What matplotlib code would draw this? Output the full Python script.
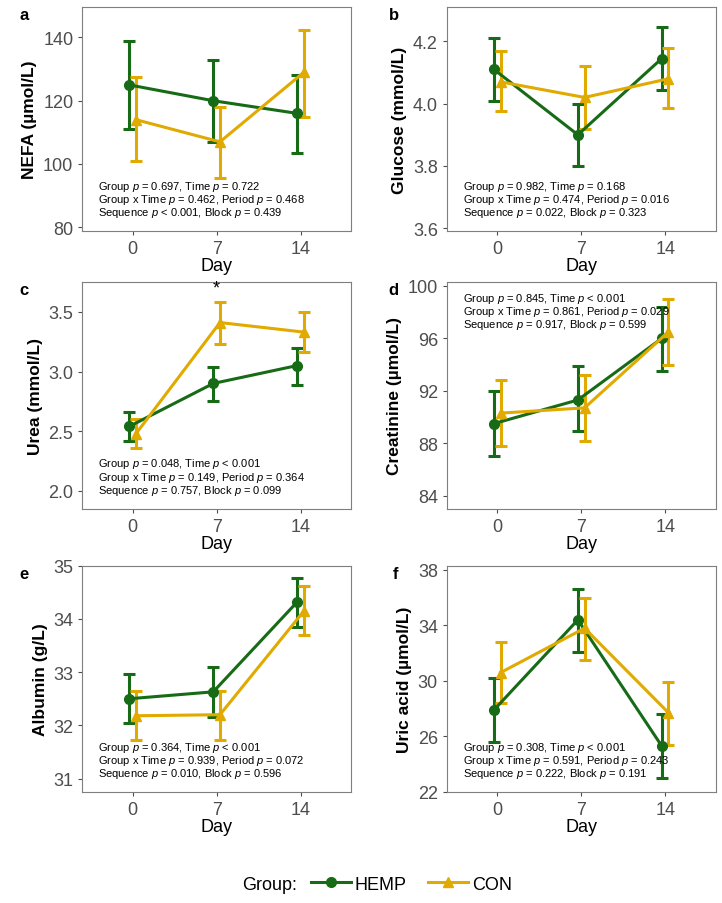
import matplotlib
matplotlib.use("Agg")
import matplotlib.pyplot as plt
from matplotlib.lines import Line2D

plt.rcParams["font.family"] = ["Liberation Sans", "DejaVu Sans"]
plt.rcParams["mathtext.fontset"] = "custom"
plt.rcParams["mathtext.it"] = "Liberation Sans:italic"
plt.rcParams["mathtext.rm"] = "Liberation Sans"

GREEN = "#176b16"
GOLD = "#e0aa00"
days = ["0", "7", "14"]

# value, lower, upper per day
nefa_hemp = [125, 120, 116]; nefa_hemp_lo = [111, 107, 103.5]; nefa_hemp_hi = [139, 133, 128]
nefa_con = [114, 107, 129]; nefa_con_lo = [101, 95.5, 115]; nefa_con_hi = [127.5, 118, 142.5]
glu_hemp = [4.11, 3.90, 4.145]; glu_hemp_lo = [4.01, 3.80, 4.045]; glu_hemp_hi = [4.21, 4.00, 4.245]
glu_con = [4.07, 4.02, 4.08]; glu_con_lo = [3.975, 3.92, 3.985]; glu_con_hi = [4.17, 4.12, 4.18]
urea_hemp = [2.54, 2.90, 3.05]; urea_hemp_lo = [2.42, 2.75, 2.89]; urea_hemp_hi = [2.66, 3.04, 3.20]
urea_con = [2.48, 3.41, 3.33]; urea_con_lo = [2.36, 3.23, 3.16]; urea_con_hi = [2.60, 3.58, 3.50]
crea_hemp = [89.5, 91.3, 96.0]; crea_hemp_lo = [87.0, 88.9, 93.5]; crea_hemp_hi = [92.0, 93.9, 98.4]
crea_con = [90.3, 90.7, 96.5]; crea_con_lo = [87.8, 88.2, 94.0]; crea_con_hi = [92.8, 93.2, 99.0]
alb_hemp = [32.5, 32.63, 34.32]; alb_hemp_lo = [32.05, 32.15, 33.85]; alb_hemp_hi = [32.97, 33.1, 34.78]
alb_con = [32.18, 32.2, 34.15]; alb_con_lo = [31.72, 31.72, 33.7]; alb_con_hi = [32.65, 32.65, 34.62]
uric_hemp = [27.9, 34.4, 25.3]; uric_hemp_lo = [25.6, 32.1, 23.0]; uric_hemp_hi = [30.2, 36.6, 27.6]
uric_con = [30.6, 33.8, 27.7]; uric_con_lo = [28.4, 31.5, 25.4]; uric_con_hi = [32.8, 36.0, 29.9]

panels = [
    ("a", "NEFA (µmol/L)", (nefa_hemp, nefa_hemp_lo, nefa_hemp_hi), (nefa_con, nefa_con_lo, nefa_con_hi),
     (78.7, 149.6), [80, 100, 120, 140], ["= 0.697", "= 0.722", "0.462", "0.468", "< 0.001", "0.439"], "bottom"),
    ("b", "Glucose (mmol/L)", (glu_hemp, glu_hemp_lo, glu_hemp_hi), (glu_con, glu_con_lo, glu_con_hi),
     (3.59, 4.31), [3.6, 3.8, 4.0, 4.2], ["= 0.982", "= 0.168", "0.474", "0.016", "= 0.022", "0.323"], "bottom"),
    ("c", "Urea (mmol/L)", (urea_hemp, urea_hemp_lo, urea_hemp_hi), (urea_con, urea_con_lo, urea_con_hi),
     (1.85, 3.75), [2.0, 2.5, 3.0, 3.5], ["= 0.048", "< 0.001", "0.149", "0.364", "= 0.757", "0.099"], "bottom"),
    ("d", "Creatinine (µmol/L)", (crea_hemp, crea_hemp_lo, crea_hemp_hi), (crea_con, crea_con_lo, crea_con_hi),
     (83.0, 100.3), [84, 88, 92, 96, 100], ["= 0.845", "< 0.001", "0.861", "0.029", "= 0.917", "0.599"], "top"),
    ("e", "Albumin (g/L)", (alb_hemp, alb_hemp_lo, alb_hemp_hi), (alb_con, alb_con_lo, alb_con_hi),
     (30.75, 35.0), [31, 32, 33, 34, 35], ["= 0.364", "< 0.001", "0.939", "0.072", "= 0.010", "0.596"], "bottom"),
    ("f", "Uric acid (µmol/L)", (uric_hemp, uric_hemp_lo, uric_hemp_hi), (uric_con, uric_con_lo, uric_con_hi),
     (22.0, 38.3), [22, 26, 30, 34, 38], ["= 0.308", "< 0.001", "0.591", "0.243", "= 0.222", "0.191"], "bottom"),
]

fig = plt.figure(figsize=(7.22, 9.04), dpi=100)
lefts = [0.114, 0.619]
rows = [(0.743, 0.248), (0.436, 0.251), (0.123, 0.25)]
x = [1, 2, 3]
dodge = 0.04

for i, (tag, ylabel, hemp, con, ylim, yticks, pv, pos) in enumerate(panels):
    b, h = rows[i // 2]
    l = lefts[i % 2]
    ax = fig.add_axes([l, b, 0.372, h])
    for (v, lo, hi), col, mk, d in [(hemp, GREEN, "o", -dodge), (con, GOLD, "^", dodge)]:
        xs = [xi + d for xi in x]
        yerr = [[vv - a for vv, a in zip(v, lo)], [c - vv for vv, c in zip(v, hi)]]
        ax.errorbar(xs, v, yerr=yerr, color=col, marker=mk, markersize=7, lw=2.2,
                    elinewidth=2.2, capsize=4, capthick=2.2)
    ax.set_xlim(0.4, 3.6)
    ax.set_ylim(*ylim)
    ax.set_yticks(yticks)
    ax.set_yticklabels([f"{t:g}" if isinstance(t, int) else f"{t:.1f}" for t in yticks])
    ax.set_xticks(x)
    ax.set_xticklabels(days)
    ax.tick_params(labelsize=13, colors="#4d4d4d", length=3)
    for s in ax.spines.values():
        s.set_color("#7f7f7f")
    ax.set_xlabel("Day", fontsize=13, labelpad=0)
    ax.set_ylabel(ylabel, fontsize=12.5, fontweight="bold")
    ax.text(-0.2 if i % 2 == 0 else -0.18, 1.0, tag, transform=ax.transAxes,
            fontsize=12, fontweight="bold", va="top", ha="right")
    lines = [
        f"Group $p$ {pv[0]}, Time $p$ {pv[1]}",
        f"Group x Time $p$ = {pv[2]}, Period $p$ = {pv[3]}",
        f"Sequence $p$ {pv[4]}, Block $p$ = {pv[5]}",
    ]
    y0 = 0.2 if pos == "bottom" else 0.93
    for k, t in enumerate(lines):
        ax.text(0.06, y0 - k * 0.058, t, transform=ax.transAxes, fontsize=8, va="center")
    if tag == "c":
        ax.text(2, 3.7, "*", ha="center", va="center", fontsize=13)

handles = [Line2D([], [], color=GREEN, marker="o", lw=2.2, markersize=7),
           Line2D([], [], color=GOLD, marker="^", lw=2.2, markersize=7)]
fig.text(0.335, 0.021, "Group:", fontsize=13, va="center")
fig.legend(handles, ["HEMP", "CON"], loc="center", bbox_to_anchor=(0.57, 0.021), ncol=2,
           frameon=False, fontsize=13, handlelength=2.2, columnspacing=1.2, handletextpad=0.2)

fig.savefig("out.png", dpi=100)
